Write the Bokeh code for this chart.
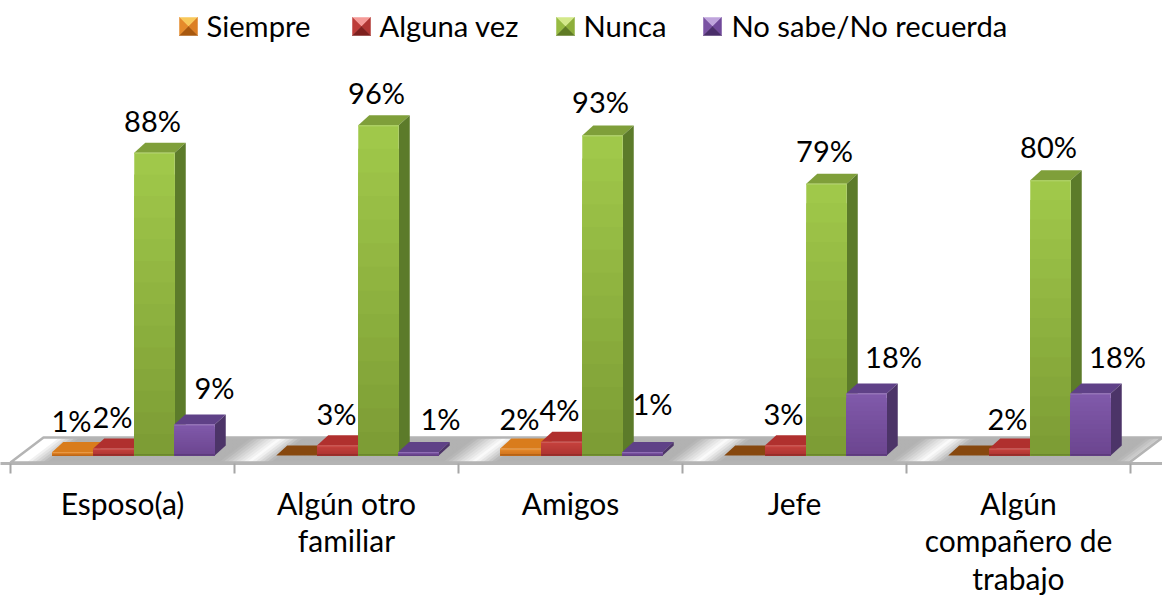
from bokeh.plotting import figure
from bokeh.models import Range1d, FixedTicker
from bokeh.core.properties import value
from bokeh.embed import file_html
from bokeh.resources import INLINE

# ---------- data ----------
categories = ["Esposo(a)", "Algún otro\nfamiliar", "Amigos", "Jefe", "Algún\ncompañero de\ntrabajo"]
series_names = ["Siempre", "Alguna vez", "Nunca", "No sabe/No recuerda"]
siempre = [1, 0, 2, 0, 0]
alguna_vez = [2, 3, 4, 3, 2]
nunca = [88, 96, 93, 79, 80]
no_sabe = [9, 1, 1, 18, 18]
series = [siempre, alguna_vez, nunca, no_sabe]

# ---------- layout constants (reference pixels) ----------
W, H = 1162, 596
PAGE = 0
X0_PX, UX = 122.0, 224.0      # first category centre, pixels per category
Y0_PX, UY = 455.0, 3.44       # zero line, pixels per percent
FRAME_BOTTOM = 463
BAR_PX = 40.5
BAR_OFF = [-50, -9, 32, 72]
DEPTH_X, DEPTH_Y = 11, 10
FONT = "Lato"
FS_AXIS = "30px"
FS_LEG = "29.2px"
FS_LAB = "29px"
LABEL_LIFT = 2

def X(px): return (px - X0_PX) / UX
def Y(py): return (Y0_PX - py) / UY

# (dx, dy) of each data label from the top centre of its bar, pixels
LABEL_SHIFT = [
    [(-1, 30), (-1, 30), (-2, 30), (20, 35)],
    [None, (-1, 30), (-2, 31), (22, 32)],
    [(-1, 28), (-2, 30), (-2, 32), (10, 47)],
    [None, (-2, 30), (-2, 31), (27, 35)],
    [None, (-2, 28), (-2, 32), (27, 35)],
]

STYLE = [
    dict(f1="#e58a2c", f2="#d0721a", top="#d97c1c", side="#a85b12", zero="#87480f",
         sw=("#f8c85a", "#e58a2a", "#dc7f24", "#a8580e", "#f0a238")),
    dict(f1="#c6423e", f2="#ad3431", top="#b0302e", side="#8a2624", zero="#8a2624",
         sw=("#f59a97", "#bd3c39", "#b03633", "#7e201e", "#d65451")),
    dict(f1="#a0c84a", f2="#7d9d35", top="#7f9f3a", side="#5c7b2a", zero="#5c7b2a",
         sw=("#d3e88a", "#97bb42", "#8dae3a", "#5f7b24", "#a8cc52")),
    dict(f1="#8059aa", f2="#6c4690", top="#5f4187", side="#4c3468", zero="#5f4187",
         sw=("#bfa4dc", "#7a52a3", "#70499a", "#4a2e6a", "#8d66b8")),
]

def mix(a, b, t):
    ca = [int(a[i:i + 2], 16) for i in (1, 3, 5)]
    cb = [int(b[i:i + 2], 16) for i in (1, 3, 5)]
    return "#%02x%02x%02x" % tuple(round(u + (v - u) * t) for u, v in zip(ca, cb))

p = figure(width=W, height=H, frame_width=W, frame_height=FRAME_BOTTOM,
           output_backend="svg", toolbar_location=None,
           x_range=Range1d(X(PAGE), X(PAGE + W)),
           y_range=Range1d(Y(FRAME_BOTTOM), Y(PAGE)),
           min_border_left=0, min_border_right=0, min_border_top=0,
           min_border_bottom=0,
           outline_line_color=None, background_fill_color="white")
p.grid.visible = False
p.yaxis.visible = False

ax = p.xaxis[0]
ax.ticker = FixedTicker(ticks=list(range(len(categories))),
                        minor_ticks=[i - 0.5 for i in range(len(categories) + 1)])
ax.major_label_overrides = {i: c for i, c in enumerate(categories)}
ax.major_tick_out = 0
ax.major_tick_in = 0
ax.minor_tick_out = 10
ax.minor_tick_in = 0
ax.minor_tick_line_color = "#a6a6a6"
ax.minor_tick_line_width = 2
ax.axis_line_color = "#b4b4b4"
ax.axis_line_width = 3
ax.major_label_text_font = FONT
ax.major_label_text_font_size = FS_AXIS
ax.major_label_text_color = "black"
ax.major_label_text_line_height = 1.05
ax.major_label_standoff = 11

# ---------- floor ----------
FL, FR, FB, FT, SKEW = 10, 1129, 462, 437, 33

def shade(x):
    g = 1.0
    for i in range(len(categories)):
        L, R = 52 + UX * i, 214 + UX * i
        if L - 22 <= x <= L:
            g = min(g, 1 - 0.30 * (x - (L - 22)) / 22)
        elif L < x <= R + 10:
            g = min(g, 0.70)
        elif R + 10 < x <= R + 42:
            g = min(g, 0.70 + 0.30 * (x - R - 10) / 32)
    return g

xs, ys, cols = [], [], []
step = 4
for x in range(FL, FR, step):
    xs.append([X(x), X(FR), X(FR + SKEW), X(x + SKEW)])
    ys.append([Y(FB), Y(FB), Y(FT), Y(FT)])
    v = round(255 * shade(x + 8))
    cols.append("#%02x%02x%02x" % (v, v, v))
p.patches(xs, ys, fill_color=cols, line_color=None)
p.patch([X(FL), X(FR), X(FR + SKEW), X(FL + SKEW), X(FL)],
        [Y(FB), Y(FB), Y(FT), Y(FT), Y(FB)],
        fill_color=None, line_color="#b4b4b4", line_width=2.5)

# ---------- bars ----------
BW = BAR_PX / UX
DX, DY = DEPTH_X / UX, DEPTH_Y / UY
N = 14
for i in range(len(categories)):
    for j, s in enumerate(series):
        v = s[i]
        st = STYLE[j]
        xc = i + BAR_OFF[j] / UX
        l, r = xc - BW / 2, xc + BW / 2
        # top face
        p.patch([l, r, r + DX, l + DX], [v, v, v + DY, v + DY],
                fill_color=st["zero"] if v == 0 else st["top"], line_color=None)
        if v == 0:
            continue
        # side face
        p.patch([r, r + DX, r + DX, r], [0, DY, v + DY, v],
                fill_color=st["side"], line_color=None)
        # front face: vertical gradient
        tops, cs = [], []
        for k in range(N):
            tops.append(v * (1 - k / N))
            cs.append(mix(st["f1"], st["f2"], k / (N - 1)))
        p.quad(left=[l] * N, right=[r] * N, bottom=[0] * N, top=tops,
               fill_color=cs, line_color=None)
        # soft bevel on the edges
        ev = min(1.2 / UY, v / 4)
        p.quad(left=[l], right=[r], bottom=[v - ev], top=[v],
               fill_color=mix(st["f1"], "#ffffff", 0.12), line_color=None)
        p.quad(left=[l], right=[r], bottom=[0], top=[ev],
               fill_color=mix(st["f2"], "#000000", 0.18), line_color=None)

# ---------- data labels ----------
lx, ly, lt = [], [], []
for i in range(len(categories)):
    for j, s in enumerate(series):
        if s[i] == 0:
            continue
        dx, dy = LABEL_SHIFT[i][j]
        lx.append(i + (BAR_OFF[j] + dx) / UX)
        ly.append(s[i] + (dy + LABEL_LIFT) / UY)
        lt.append("%d%%" % s[i])
p.text(lx, ly, text=lt, text_font=value(FONT), text_font_size=value(FS_LAB), text_color="black",
       text_align="center", text_baseline="middle")

# ---------- legend ----------
SW = 18
leg_swatch = [179, 352, 556, 703]
leg_text = [206, 379, 583, 731]
leg_y = 26
leg_text_y = 25
for j, name in enumerate(series_names):
    a, b = leg_swatch[j], leg_swatch[j] + SW
    t, d = leg_y - SW / 2, leg_y + SW / 2
    cx, cy = (a + b) / 2, (t + d) / 2
    c_top, c_left, c_right, c_bot, c_mid = STYLE[j]["sw"]
    tri = [
        ([a, b, cx], [t, t, cy], c_top),
        ([a, cx, a], [t, cy, d], c_left),
        ([b, cx, b], [t, cy, d], c_right),
        ([a, b, cx], [d, d, cy], c_bot),
    ]
    for txs, tys, c in tri:
        p.patch([X(q) for q in txs], [Y(q) for q in tys], fill_color=c, line_color=c, line_width=0.5)
    p.text([X(leg_text[j])], [Y(leg_text_y)], text=[name], text_font=value(FONT), text_font_size=value(FS_LEG),
           text_color="black", text_align="left", text_baseline="middle")

open("out.html", "w").write(file_html(p, INLINE))
